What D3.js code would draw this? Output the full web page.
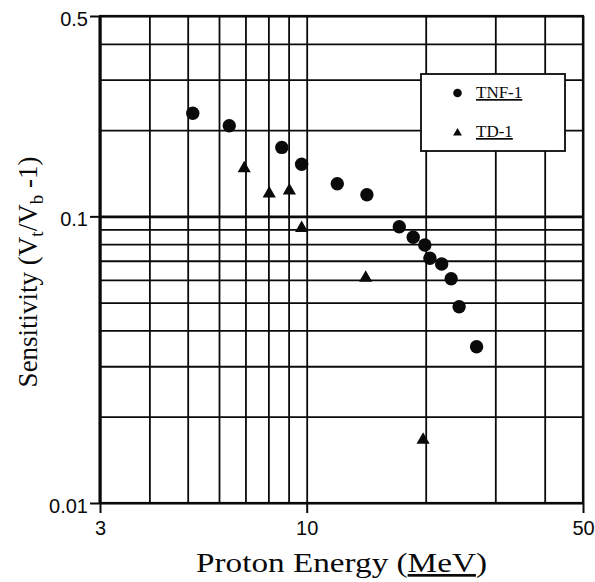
<!DOCTYPE html>
<html>
<head>
<meta charset="utf-8">
<script src="https://cdn.jsdelivr.net/npm/d3@7"></script>
<style>
  html, body { margin: 0; padding: 0; background: #fff; }
  svg { display: block; }
</style>
</head>
<body>
<svg id="chart" width="595" height="582"></svg>
<script>
// ---- data ----
const tnfEnergy = [5.15, 6.37, 8.65, 9.71, 11.95, 14.2, 17.15, 18.6, 19.9, 20.5, 21.95, 23.2, 24.3, 26.9];
const tnfSens   = [0.229, 0.207, 0.174, 0.152, 0.130, 0.119, 0.092, 0.0845, 0.0794, 0.0714, 0.0682, 0.0606, 0.0484, 0.0351];
const tdEnergy  = [6.95, 8.04, 9.04, 9.71, 14.1, 19.7];
const tdSens    = [0.147, 0.120, 0.123, 0.091, 0.061, 0.0166];
const xGridValues = [3, 4, 5, 6, 7, 8, 9, 10, 20, 30, 40, 50];
const yGridValues = [0.5, 0.4, 0.3, 0.2, 0.1, 0.09, 0.08, 0.07, 0.06, 0.05, 0.04, 0.03, 0.02, 0.01];
const xTickValues = [3, 10, 50];
const xTickLabels = ["3", "10", "50"];
const yTickValues = [0.5, 0.1, 0.01];
const yTickLabels = ["0.5", "0.1", "0.01"];
const seriesNames = ["TNF-1", "TD-1"];

// ---- layout ----
const L = 100, R = 583, T = 16, B = 503;
const svg = d3.select("#chart");
const x = d3.scaleLog().domain([3, 50]).range([L, R]);
const y = d3.scaleLog().domain([0.01, 0.5]).range([B, T]);
const ink = "#0a0a0a";

// gridlines
const gx = svg.append("g").attr("transform", `translate(0,${B})`)
  .call(d3.axisBottom(x).tickValues(xGridValues).tickSize(-(B - T)).tickFormat(""));
gx.select(".domain").remove();
gx.selectAll("line").attr("stroke", ink).attr("stroke-width", 1.8);

const gy = svg.append("g").attr("transform", `translate(${L},0)`)
  .call(d3.axisLeft(y).tickValues(yGridValues).tickSize(-(R - L)).tickFormat(""));
gy.select(".domain").remove();
gy.selectAll("line").attr("stroke", ink)
  .attr("stroke-width", d => d === 0.1 ? 2.6 : 1.8);

// frame
svg.append("rect").attr("x", L).attr("y", T).attr("width", R - L).attr("height", B - T)
  .attr("fill", "none").attr("stroke", ink).attr("stroke-width", 2.2);
svg.append("line").attr("x1", L).attr("x2", L).attr("y1", T).attr("y2", B)
  .attr("stroke", ink).attr("stroke-width", 3);

// labeled axes
const ax = svg.append("g").attr("transform", `translate(0,${B})`)
  .call(d3.axisBottom(x).tickValues(xTickValues).tickSize(10).tickPadding(8)
    .tickFormat((d, i) => xTickLabels[i]));
ax.select(".domain").remove();
ax.selectAll("line").attr("stroke", ink).attr("stroke-width", 2);
ax.selectAll("text").attr("font-family", "Liberation Sans, Arial, sans-serif")
  .attr("font-size", 20).attr("fill", ink).attr("dy", "0.72em");

const ay = svg.append("g").attr("transform", `translate(${L},0)`)
  .call(d3.axisLeft(y).tickValues(yTickValues).tickSize(10).tickPadding(2)
    .tickFormat((d, i) => yTickLabels[i]));
ay.select(".domain").remove();
ay.selectAll("line").attr("stroke", ink).attr("stroke-width", 2);
ay.selectAll("text").attr("font-family", "Liberation Sans, Arial, sans-serif")
  .attr("font-size", 20).attr("fill", ink).attr("dy", "0.48em");

// data markers
svg.append("g").selectAll("circle").data(tnfEnergy).join("circle")
  .attr("cx", d => x(d)).attr("cy", (d, i) => y(tnfSens[i])).attr("r", 6.7).attr("fill", ink);

const tri = d3.symbol().type(d3.symbolTriangle).size(75);
svg.append("g").selectAll("path").data(tdEnergy).join("path")
  .attr("d", tri)
  .attr("transform", (d, i) => `translate(${x(d)},${y(tdSens[i])})`)
  .attr("fill", ink);

// legend
const lg = svg.append("g");
lg.append("rect").attr("x", 421).attr("y", 74).attr("width", 144).attr("height", 77)
  .attr("fill", "#fff").attr("stroke", ink).attr("stroke-width", 1.8);
lg.append("circle").attr("cx", 457.5).attr("cy", 93).attr("r", 4.3).attr("fill", ink);
lg.append("path").attr("d", d3.symbol().type(d3.symbolTriangle).size(34))
  .attr("transform", "translate(457.5,133)").attr("fill", ink);
lg.selectAll("text").data(seriesNames).join("text")
  .attr("x", 476).attr("y", (d, i) => i === 0 ? 98 : 137)
  .attr("font-family", "Liberation Serif, Times New Roman, serif").attr("font-size", 17)
  .attr("fill", ink).style("text-decoration", "underline")
  .text(d => d);

// axis titles
const xt = svg.append("text").attr("x", (L + R) / 2).attr("y", 572).attr("text-anchor", "middle")
  .attr("font-family", "Liberation Serif, Times New Roman, serif").attr("font-size", 27).attr("fill", ink)
  .attr("textLength", 291).attr("lengthAdjust", "spacingAndGlyphs");
xt.append("tspan").text("Proton Energy (");
xt.append("tspan").style("text-decoration", "underline").text("MeV");
xt.append("tspan").text(")");

const yt = svg.append("text").attr("transform", "translate(37,272) rotate(-90)").attr("text-anchor", "middle")
  .attr("font-family", "Liberation Serif, Times New Roman, serif").attr("font-size", 27).attr("fill", ink);
yt.append("tspan").text("Sensitivity (V");
yt.append("tspan").attr("font-size", 19).attr("dy", 6).text("t");
yt.append("tspan").attr("dy", -6).text("/V");
yt.append("tspan").attr("font-size", 19).attr("dy", 6).text("b");
yt.append("tspan").attr("dy", -6).text(" -1)");
</script>
</body>
</html>
